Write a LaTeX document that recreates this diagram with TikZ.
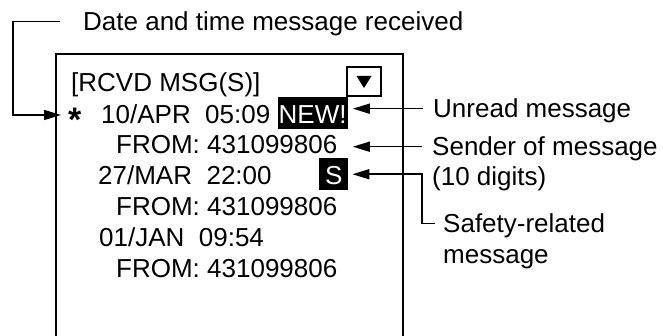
\documentclass[tikz,border=0pt]{standalone}
\usepackage{fontspec}
\setmainfont{Liberation Sans}
\usepackage{tikz}
\usetikzlibrary{calc, positioning, arrows.meta}
\tikzset{
    screen/.style={rectangle, draw=black, line width=1.8pt, anchor=north west, inner sep=0pt, minimum width=347pt, minimum height=300pt},
    txt/.style={font=\fontsize{26pt}{31pt}\selectfont, anchor=base west, inner sep=0pt},
    tag/.style={txt, fill=black, text=white, text height=25.5pt, text depth=4pt, inner xsep=1pt, inner ysep=1.5pt},
    scrollbox/.style={rectangle, draw=black, line width=1.4pt, minimum width=34pt, minimum height=29pt, inner sep=0pt},
    lbl/.style={txt, inner xsep=10pt, inner ysep=0pt, text height=18.6pt, text depth=0pt},
    arrow/.style={-{Triangle[length=17pt, width=10pt]}, line width=1.5pt}
}

\begin{document}
\begin{tikzpicture}[x=1pt, y=-1pt]
        \useasboundingbox (0,0) rectangle (663,336);

        % Screen
        \node[screen] (screen) at (55,53) {};
        \node[scrollbox] (scroll) at (364,81.5) {};
        \fill ($(scroll.center)+(-7.5,-5.5)$) -- ++(15,0) -- ++(-7.5,12) -- cycle;

        % Message list
        \node[txt] (title) at (71,92) {[RCVD MSG(S)]};
        \node[txt, font=\fontsize{34pt}{34pt}\selectfont\bfseries] (star) at (68,132) {*};
        \node[txt] (row1) at (101,124) {10/APR\ \ 05:09};
        \node[tag, right=7pt of row1.base east, anchor=base west] (newtag) {NEW!};
        \node[txt] (from1) at (116,154) {FROM: 431099806};
        \node[txt] (row3) at (98,185) {27/MAR\ \ 22:00};
        \node[tag, minimum width=29pt] (stag) at (319,185) {S};
        \node[txt] (from2) at (116,216) {FROM: 431099806};
        \node[txt] (row5) at (99,247) {01/JAN\ \ 09:54};
        \node[txt] (from3) at (116,278) {FROM: 431099806};

        % Labels
        \node[lbl, inner xsep=23pt] (datelbl) at (60,31) {Date and time message received};
        \node[lbl] (unread) at (423,118) {Unread message};
        \node[lbl] (sender) at (422,156) {Sender of message};
        \node[txt] (digits) at (432,186) {(10 digits)};
        \node[lbl, inner xsep=8pt] (safety) at (435,233) {Safety-related};
        \node[txt] (safety2) at (443,264) {message};

        % Connections
        \coordinate (dateIn) at (61,115);
        \draw[arrow] (datelbl.west) -- ++(-47,0) |- (dateIn);
        \draw[arrow, shorten >=5pt] (unread.west) -- (unread.west -| newtag.east);
        \draw[arrow, shorten >=5pt] (sender.west) -- (sender.west -| newtag.east);
        \draw[arrow, shorten >=4pt] (safety.west) -- ++(-13,0) |- (stag.east);
    \end{tikzpicture}
\end{document}
